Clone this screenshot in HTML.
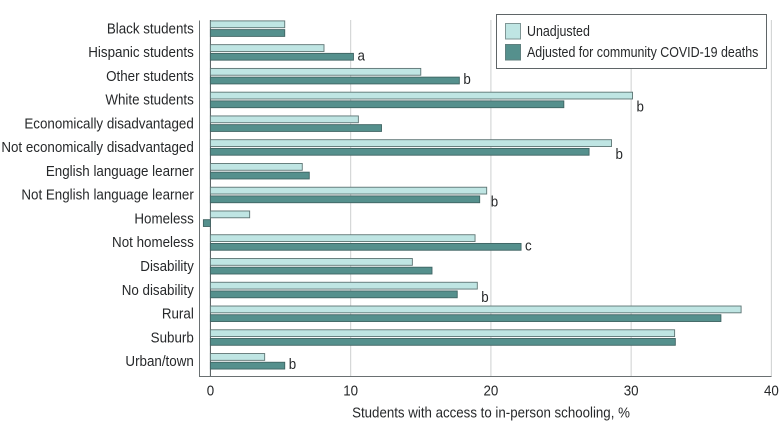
<!DOCTYPE html>
<html lang="en">
<head>
<meta charset="utf-8">
<title>Students with access to in-person schooling</title>
<style>
html,body{margin:0;padding:0;background:#fff;width:780px;height:427px;overflow:hidden}
svg{display:block}
text{font-family:"Liberation Sans",sans-serif;fill:#26282a;font-size:14.5px}
</style>
</head>
<body>
<svg id="chart" width="780" height="427" viewBox="0 0 780 427" xmlns="http://www.w3.org/2000/svg"></svg>
<script>
const categories = ["Black students","Hispanic students","Other students","White students","Economically disadvantaged","Not economically disadvantaged","English language learner","Not English language learner","Homeless","Not homeless","Disability","No disability","Rural","Suburb","Urban/town"];
const unadjusted = [5.3,8.1,15.0,30.1,10.55,28.6,6.55,19.7,2.8,18.87,14.4,19.03,37.84,33.1,3.87];
const adjusted = [5.3,10.2,17.75,25.2,12.2,27.0,7.05,19.2,-0.5,22.15,15.8,17.6,36.4,33.15,5.3];
const footnotes = ["","a","b","b","","b","","b","","c","","b","","","b"];
const xTicks = [0,10,20,30,40];
const seriesNames = ["Unadjusted","Adjusted for community COVID-19 deaths"];
const xTitle = "Students with access to in-person schooling, %";

const svg = document.getElementById('chart');
const NS = 'http://www.w3.org/2000/svg';
const xScale = v => 210.4 + v * 14.025;
const rowTop = i => 20.6 + i * 23.76;

function make(tag, attrs, parent) {
  const el = document.createElementNS(NS, tag);
  for (const k in attrs) el.setAttribute(k, attrs[k]);
  (parent || svg).appendChild(el);
  return el;
}
function label(str, x, y, anchor, sx, parent) {
  const el = make('text', {transform:'translate(' + x + ',' + y + ') scale(' + sx + ',1)', 'text-anchor':anchor}, parent);
  el.textContent = str;
  return el;
}

xTicks.forEach(function (t) {
  const g = make('line', {x1:xScale(t), x2:xScale(t), y1:20, y2:376.5, stroke:t === 0 ? '#4d5557' : '#d2d4d4', 'stroke-width':t === 0 ? 1 : 1.1});
  
  
  const tl = label(String(t), xScale(t), 395.5, 'middle', 0.92);
  
  
});

const axisX = make('line', {x1:199.5, x2:771.5, y1:376.5, y2:376.5, stroke:'#6a7072', 'stroke-width':1});


const axisY = make('line', {x1:199.5, x2:199.5, y1:20.5, y2:377, stroke:'#6a7072', 'stroke-width':1});



categories.forEach(function (c, i) {
  const top = rowTop(i);
  const key = c.toLowerCase().replace(/[^a-z]+/g, '-');
  const cl = label(c, 193.8, top + 12.8, 'end', 0.923);
  
  

  const x0 = xScale(0);
  const u = unadjusted[i], a = adjusted[i];
  const ub = make('rect', {x:Math.min(x0, xScale(u)), y:top + 0.3, width:Math.abs(xScale(u) - x0), height:6.8, fill:'#bfe5e3', stroke:'#5d7473', 'stroke-width':0.9});
  
  
  const ab = make('rect', {x:Math.min(x0, xScale(a)), y:top + 9.0, width:Math.abs(xScale(a) - x0), height:6.8, fill:'#55908d', stroke:'#3f6463', 'stroke-width':0.9});
  
  

  if (footnotes[i]) {
    const above = a > u;
    const fx = xScale(Math.max(u, a)) + (above ? 4 : 4);
    const fy = top + (above ? 16 : 19.8);
    const fn = label(footnotes[i], fx, fy, 'start', 0.92);
    
    
  }
});

const title = label(xTitle, 491, 417.7, 'middle', 0.917);



const legend = make('g', {});


const box = make('rect', {x:496.5, y:14.5, width:270, height:54, fill:'#fff', stroke:'#5f6567', 'stroke-width':1}, legend);


const swatchFills = ['#bfe5e3', '#55908d'];
const swatchStrokes = ['#7f9695', '#5f7f7e'];
seriesNames.forEach(function (s, i) {
  const y = 23.5 + i * 21;
  const sw = make('rect', {x:505.5, y:y, width:15, height:15.5, fill:swatchFills[i], stroke:swatchStrokes[i], 'stroke-width':1}, legend);
  
  
  const t = label(s, 527, y + 12.7, 'start', 0.857, legend);
  
  
});
</script>
</body>
</html>
